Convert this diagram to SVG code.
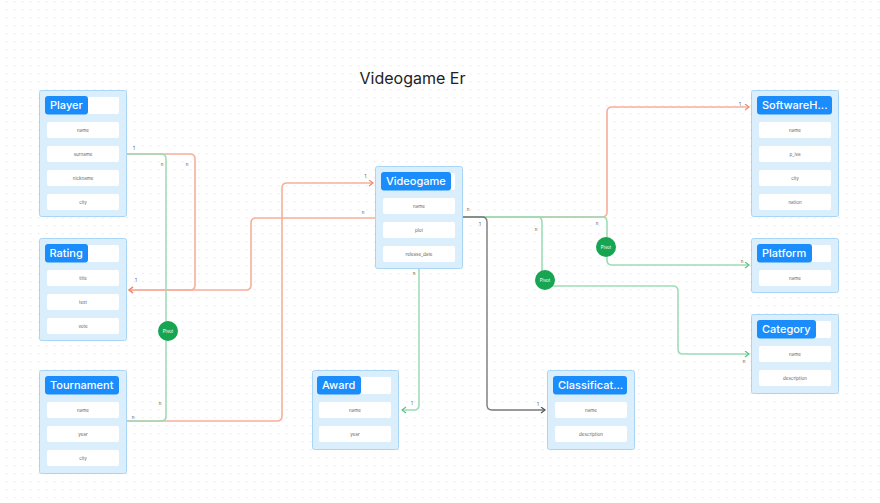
<svg xmlns="http://www.w3.org/2000/svg" width="880" height="503" viewBox="0 0 880 503">
<defs>
<pattern id="dots" width="8" height="8" patternUnits="userSpaceOnUse">
<rect x="6.1" y="1.1" width="1.3" height="1.3" fill="#e6e6e6"/>
</pattern>
<marker id="arR" markerWidth="8" markerHeight="8" refX="5" refY="3.5" orient="auto" markerUnits="userSpaceOnUse"><path d="M1,0.5 L5,3.5 L1,6.5" fill="none" stroke="#f08a6c" stroke-width="1.2"/></marker>
<marker id="arG" markerWidth="8" markerHeight="8" refX="5" refY="3.5" orient="auto" markerUnits="userSpaceOnUse"><path d="M1,0.5 L5,3.5 L1,6.5" fill="none" stroke="#5cc485" stroke-width="1.2"/></marker>
<marker id="arK" markerWidth="8" markerHeight="8" refX="5" refY="3.5" orient="auto" markerUnits="userSpaceOnUse"><path d="M1,0.5 L5,3.5 L1,6.5" fill="none" stroke="#555" stroke-width="1.2"/></marker>
</defs>
<style>
.box{fill:#dbeefc;stroke:#a9d5f6;stroke-width:1}
.hbar{fill:#ffffff}
.pill{fill:#1a8cfb}
.ptxt{font-family:Inter,"Liberation Sans",sans-serif;font-size:11px;font-weight:500;fill:#ffffff}
.fld{fill:#ffffff}
.ftxt{font-family:Inter,"Liberation Sans",sans-serif;font-size:4.5px;fill:#666;text-anchor:middle}
.lbl{font-family:Inter,"Liberation Sans",sans-serif;font-size:4.5px;fill:#555;text-anchor:middle}
.red{fill:none;stroke:#f7ae9a;stroke-width:1.6}
.grn{fill:none;stroke:#9edcb6;stroke-width:1.6}
.gry{fill:none;stroke:#7a7a7a;stroke-width:1.4}
.piv{fill:#17a552}
.pvt{font-family:Inter,"Liberation Sans",sans-serif;font-size:4.5px;fill:#ffffff;text-anchor:middle}
.title{font-family:Inter,"Liberation Sans",sans-serif;font-size:16px;fill:#222}
</style>
<rect width="880" height="503" fill="#ffffff"/>
<rect width="880" height="503" fill="url(#dots)"/>
<text class="title" x="359.5" y="83.5">Videogame Er</text>

<g id="connectors">
<path class="red" d="M127,154 H190 Q195,154 195,159 V285 Q195,290 190,290 H129" marker-end="url(#arR)"/>
<path class="red" d="M375,218 H256 Q251,218 251,223 V285 Q251,290 246,290 H129" marker-end="url(#arR)"/>
<path class="red" d="M127,421 H277 Q282,421 282,416 V188 Q282,183 287,183 H373" marker-end="url(#arR)"/>
<path class="red" d="M463,217 H602 Q607,217 607,212 V112 Q607,107 612,107 H749" marker-end="url(#arR)"/>
<path class="grn" d="M127,154 H161 Q166,154 166,159 V416 Q166,421 161,421 H127"/>
<path class="grn" d="M463,217 H602 Q607,217 607,222 V260 Q607,265 612,265 H749" marker-end="url(#arG)"/>
<path class="grn" d="M463,217 H537 Q542,217 542,222 V278 M545,286 H673 Q678,286 678,291 V349 Q678,354 683,354 H749" marker-end="url(#arG)"/>
<path class="grn" d="M419,269 V405 Q419,410 414,410 H402" marker-end="url(#arG)"/>
<path class="gry" d="M463,217 H482 Q487,217 487,222 V405 Q487,410 492,410 H545" marker-end="url(#arK)"/>
<circle class="piv" cx="168" cy="331" r="10"/><text class="pvt" x="168" y="332.6">Pivot</text>
<circle class="piv" cx="606" cy="247" r="10"/><text class="pvt" x="606" y="248.6">Pivot</text>
<circle class="piv" cx="545" cy="280" r="10"/><text class="pvt" x="545" y="281.6">Pivot</text>
<text class="lbl" x="134" y="149.5">1</text>
<text class="lbl" x="187" y="165.5">n</text>
<text class="lbl" x="162" y="165.5">n</text>
<text class="lbl" x="136" y="281.5">1</text>
<text class="lbl" x="160" y="404.5">n</text>
<text class="lbl" x="133" y="418.5">n</text>
<text class="lbl" x="365.5" y="177.5">1</text>
<text class="lbl" x="363" y="213.5">n</text>
<text class="lbl" x="468" y="210.5">n</text>
<text class="lbl" x="480" y="225.5">1</text>
<text class="lbl" x="536" y="231">n</text>
<text class="lbl" x="597" y="224.5">n</text>
<text class="lbl" x="740" y="105.5">1</text>
<text class="lbl" x="742" y="262.5">n</text>
<text class="lbl" x="744" y="363">n</text>
<text class="lbl" x="414" y="275">n</text>
<text class="lbl" x="412" y="405">1</text>
<text class="lbl" x="538" y="406">1</text>
</g>

<g id="player">
<rect class="box" x="39.5" y="90.5" width="87" height="126" rx="2"/>
<rect class="hbar" x="45" y="97" width="74" height="17" rx="2"/>
<rect class="pill" x="45" y="96" width="43" height="18.5" rx="3"/>
<text class="ptxt" x="50" y="109.3">Player</text>
<rect class="fld" x="47" y="122" width="72" height="16" rx="2"/><text class="ftxt" x="83" y="131.6">name</text>
<rect class="fld" x="47" y="146" width="72" height="16" rx="2"/><text class="ftxt" x="83" y="155.6">surname</text>
<rect class="fld" x="47" y="170" width="72" height="16" rx="2"/><text class="ftxt" x="83" y="179.6">nickname</text>
<rect class="fld" x="47" y="194" width="72" height="16" rx="2"/><text class="ftxt" x="83" y="203.6">city</text>
</g>

<g id="rating">
<rect class="box" x="39.5" y="238.5" width="87" height="102" rx="2"/>
<rect class="hbar" x="45" y="245" width="74" height="17" rx="2"/>
<rect class="pill" x="45" y="244" width="43" height="18.5" rx="3"/>
<text class="ptxt" x="49.5" y="257.3">Rating</text>
<rect class="fld" x="47" y="270" width="72" height="16" rx="2"/><text class="ftxt" x="83" y="279.6">title</text>
<rect class="fld" x="47" y="294" width="72" height="16" rx="2"/><text class="ftxt" x="83" y="303.6">text</text>
<rect class="fld" x="47" y="318" width="72" height="16" rx="2"/><text class="ftxt" x="83" y="327.6">vote</text>
</g>

<g id="tournament">
<rect class="box" x="39.5" y="370.5" width="87" height="103" rx="2"/>
<rect class="hbar" x="45" y="377" width="74" height="17" rx="2"/>
<rect class="pill" x="45" y="376" width="74" height="18.5" rx="3"/>
<text class="ptxt" x="50" y="389.3">Tournament</text>
<rect class="fld" x="47" y="402" width="72" height="16" rx="2"/><text class="ftxt" x="83" y="411.6">name</text>
<rect class="fld" x="47" y="426" width="72" height="16" rx="2"/><text class="ftxt" x="83" y="435.6">year</text>
<rect class="fld" x="47" y="450" width="72" height="16" rx="2"/><text class="ftxt" x="83" y="459.6">city</text>
</g>

<g id="videogame">
<rect class="box" x="375.5" y="166.5" width="87" height="102" rx="2"/>
<rect class="hbar" x="381" y="173" width="74" height="17" rx="2"/>
<rect class="pill" x="381" y="172" width="70" height="18.5" rx="3"/>
<text class="ptxt" x="386" y="185.3">Videogame</text>
<rect class="fld" x="383" y="198" width="72" height="16" rx="2"/><text class="ftxt" x="419" y="207.6">name</text>
<rect class="fld" x="383" y="222" width="72" height="16" rx="2"/><text class="ftxt" x="419" y="231.6">plot</text>
<rect class="fld" x="383" y="246" width="72" height="16" rx="2"/><text class="ftxt" x="419" y="255.6">release_date</text>
</g>

<g id="award">
<rect class="box" x="312.5" y="370.5" width="86" height="79" rx="2"/>
<rect class="hbar" x="318" y="377" width="73" height="17" rx="2"/>
<rect class="pill" x="317" y="376" width="44" height="18.5" rx="3"/>
<text class="ptxt" x="322" y="389.3">Award</text>
<rect class="fld" x="319" y="402" width="72" height="16" rx="2"/><text class="ftxt" x="355" y="411.6">name</text>
<rect class="fld" x="319" y="426" width="72" height="16" rx="2"/><text class="ftxt" x="355" y="435.6">year</text>
</g>

<g id="classification">
<rect class="box" x="547.5" y="370.5" width="87" height="79" rx="2"/>
<rect class="hbar" x="553" y="377" width="74" height="17" rx="2"/>
<rect class="pill" x="553" y="376" width="74" height="18.5" rx="3"/>
<text class="ptxt" x="558" y="389.3">Classificat...</text>
<rect class="fld" x="555" y="402" width="72" height="16" rx="2"/><text class="ftxt" x="591" y="411.6">name</text>
<rect class="fld" x="555" y="426" width="72" height="16" rx="2"/><text class="ftxt" x="591" y="435.6">description</text>
</g>

<g id="softwarehouse">
<rect class="box" x="751.5" y="90.5" width="87" height="126" rx="2"/>
<rect class="hbar" x="757" y="97" width="74" height="17" rx="2"/>
<rect class="pill" x="757" y="96" width="75" height="18.5" rx="3"/>
<text class="ptxt" x="762" y="109.3">SoftwareH...</text>
<rect class="fld" x="759" y="122" width="72" height="16" rx="2"/><text class="ftxt" x="795" y="131.6">name</text>
<rect class="fld" x="759" y="146" width="72" height="16" rx="2"/><text class="ftxt" x="795" y="155.6">p_iva</text>
<rect class="fld" x="759" y="170" width="72" height="16" rx="2"/><text class="ftxt" x="795" y="179.6">city</text>
<rect class="fld" x="759" y="194" width="72" height="16" rx="2"/><text class="ftxt" x="795" y="203.6">nation</text>
</g>

<g id="platform">
<rect class="box" x="751.5" y="238.5" width="87" height="54" rx="2"/>
<rect class="hbar" x="757" y="245" width="74" height="17" rx="2"/>
<rect class="pill" x="757" y="244" width="55" height="18.5" rx="3"/>
<text class="ptxt" x="762" y="257.3">Platform</text>
<rect class="fld" x="759" y="270" width="72" height="16" rx="2"/><text class="ftxt" x="795" y="279.6">name</text>
</g>

<g id="category">
<rect class="box" x="751.5" y="314.5" width="87" height="79" rx="2"/>
<rect class="hbar" x="757" y="321" width="74" height="17" rx="2"/>
<rect class="pill" x="757" y="320" width="59" height="18.5" rx="3"/>
<text class="ptxt" x="762" y="333.3">Category</text>
<rect class="fld" x="759" y="346" width="72" height="16" rx="2"/><text class="ftxt" x="795" y="355.6">name</text>
<rect class="fld" x="759" y="370" width="72" height="16" rx="2"/><text class="ftxt" x="795" y="379.6">description</text>
</g>
</svg>
